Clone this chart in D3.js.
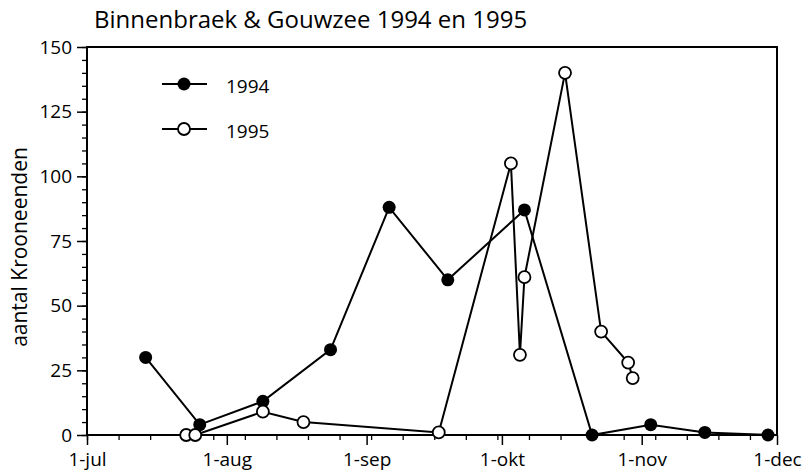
<!DOCTYPE html>
<html><head><meta charset="utf-8">
<script src="https://cdn.jsdelivr.net/npm/d3@7"></script>
<style>
html,body{margin:0;padding:0;background:#fff;}
text{font-family:"Open Sans","Noto Sans",sans-serif;fill:#000;}
</style></head>
<body><svg id="chart" width="806" height="474"></svg>
<script>
const title = "Binnenbraek & Gouwzee 1994 en 1995";
const yLabel = "aantal Krooneenden";
const seriesNames = ["1994", "1995"];
const dates1994 = ["07-14","07-26","08-09","08-24","09-06","09-19","10-06","10-21","11-03","11-15","11-29"];
const values1994 = [30, 4, 13, 33, 88, 60, 87, 0, 4, 1, 0];
const dates1995 = ["07-23","07-25","08-09","08-18","09-17","10-03","10-05","10-06","10-15","10-23","10-29","10-30"];
const values1995 = [0, 0, 9, 5, 1, 105, 31, 61, 140, 40, 28, 22];
const xTickLabels = ["1-jul","1-aug","1-sep","1-okt","1-nov","1-dec"];
const yTicks = [0, 25, 50, 75, 100, 125, 150];

const parse = s => new Date(2001, +s.slice(0,2)-1, +s.slice(3,5));
const xStart = new Date(2001, 6, 1), xEnd = new Date(2001, 11, 1);

const svg = d3.select("#chart");
const L = 87, R = 777, T = 47, B = 435;
const x = d3.scaleTime().domain([xStart, xEnd]).range([L, R]);
const y = d3.scaleLinear().domain([0, 150]).range([B, T]);

// frame
svg.append("rect").attr("x", L).attr("y", T).attr("width", R-L).attr("height", B-T)
  .attr("fill","none").attr("stroke","#000").attr("stroke-width",2);

// y axis
const yAxisMinor = d3.axisLeft(y).tickValues(d3.range(0,151,5)).tickSize(5).tickFormat("");
svg.append("g").attr("transform",`translate(${L},0)`).call(yAxisMinor)
  .call(g=>g.select(".domain").remove())
  .selectAll("line").attr("stroke","#000").attr("stroke-width",1.3);
const yAxis = d3.axisLeft(y).tickValues(yTicks).tickSize(10).tickPadding(5);
svg.append("g").attr("transform",`translate(${L},0)`).call(yAxis)
  .call(g=>g.select(".domain").remove())
  .call(g=>g.selectAll("line").attr("stroke","#000").attr("stroke-width",1.5))
  .call(g=>g.selectAll("text").attr("font-size",19).attr("font-family","Open Sans").attr("fill","#000"));

// x axis
const weekly = d3.range(0, 154, 7).map(d => d3.timeDay.offset(xStart, d));
const xMinor = d3.axisBottom(x).tickValues(weekly).tickSize(5).tickFormat("");
svg.append("g").attr("transform",`translate(0,${B})`).call(xMinor)
  .call(g=>g.select(".domain").remove())
  .selectAll("line").attr("stroke","#000").attr("stroke-width",1.3);
const months = d3.timeMonth.range(xStart, d3.timeDay.offset(xEnd,1));
const xAxis = d3.axisBottom(x).tickValues(months).tickSize(10).tickPadding(8)
  .tickFormat((d,i)=>xTickLabels[i]);
svg.append("g").attr("transform",`translate(0,${B})`).call(xAxis)
  .call(g=>g.select(".domain").remove())
  .call(g=>g.selectAll("line").attr("stroke","#000").attr("stroke-width",1.5))
  .call(g=>g.selectAll("text").attr("font-size",19).attr("font-family","Open Sans").attr("fill","#000"));

// title & y label
svg.append("text").attr("x",94).attr("y",28).attr("font-size",24).text(title);
svg.append("text").attr("transform","translate(27,247) rotate(-90)")
  .attr("text-anchor","middle").attr("font-size",21).text(yLabel);

const line = d3.line().x(d=>x(d.date)).y(d=>y(d.v));
const s1994 = dates1994.map((d,i)=>({date:parse(d), v:values1994[i]}));
const s1995 = dates1995.map((d,i)=>({date:parse(d), v:values1995[i]}));

svg.append("path").datum(s1994).attr("d",line).attr("fill","none").attr("stroke","#000").attr("stroke-width",2);
svg.append("g").selectAll("circle").data(s1994).join("circle")
  .attr("cx",d=>x(d.date)).attr("cy",d=>y(d.v)).attr("r",6.5).attr("fill","#000");
svg.append("path").datum(s1995).attr("d",line).attr("fill","none").attr("stroke","#000").attr("stroke-width",2);
svg.append("g").selectAll("circle").data(s1995).join("circle")
  .attr("cx",d=>x(d.date)).attr("cy",d=>y(d.v)).attr("r",6).attr("fill","#fff")
  .attr("stroke","#000").attr("stroke-width",1.8);

// legend
const leg = svg.append("g");
seriesNames.forEach((name,i)=>{
  const ly = 84 + i*45;
  leg.append("line").attr("x1",162).attr("x2",207).attr("y1",ly).attr("y2",ly)
    .attr("stroke","#000").attr("stroke-width",2);
  leg.append("circle").attr("cx",184).attr("cy",ly).attr("r",i===0?6.5:6)
    .attr("fill",i===0?"#000":"#fff").attr("stroke","#000").attr("stroke-width",i===0?0:1.8);
  leg.append("text").attr("x",226).attr("y",ly+9).attr("font-size",19).text(name);
});
</script></body></html>
